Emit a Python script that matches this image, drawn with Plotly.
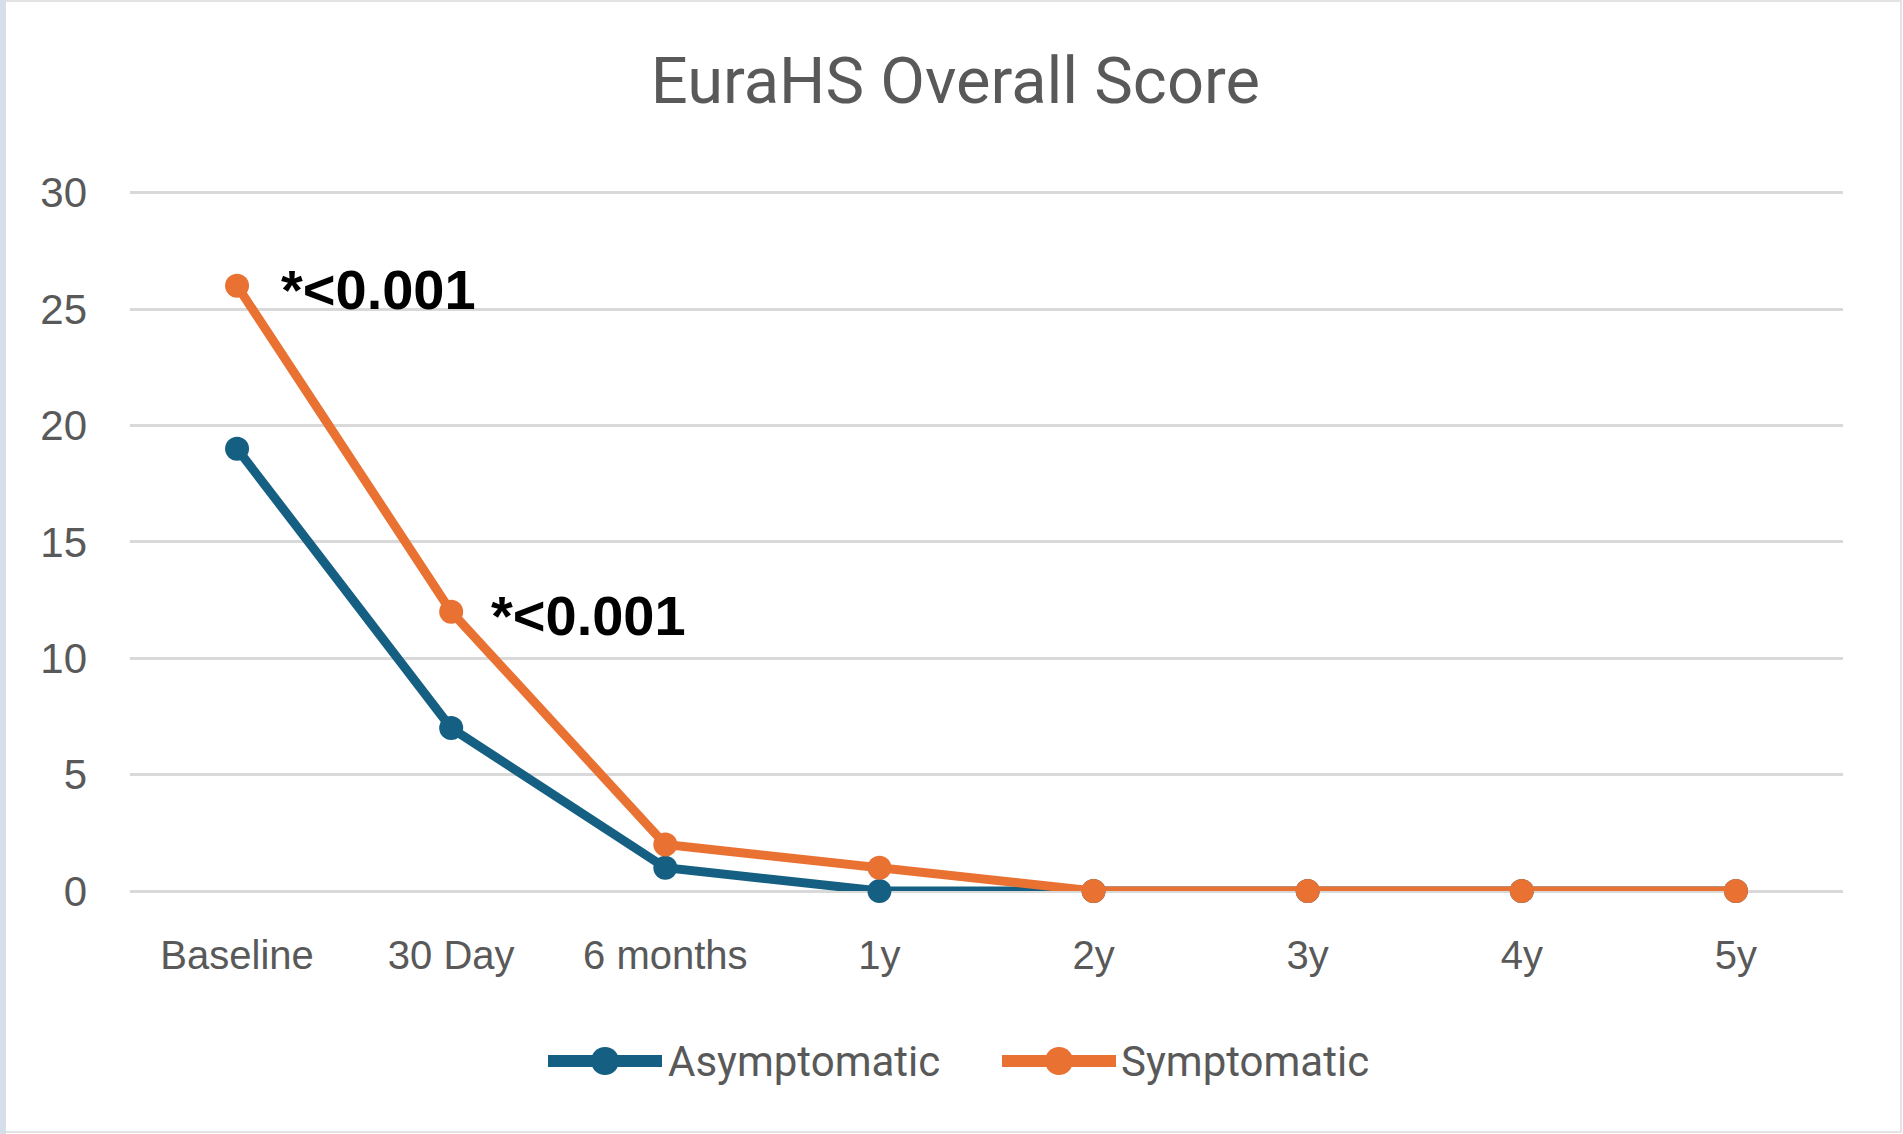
import plotly.graph_objects as go

categories = ["Baseline", "30 Day", "6 months", "1y", "2y", "3y", "4y", "5y"]
asymptomatic = [19, 7, 1, 0, 0, 0, 0, 0]
symptomatic = [26, 12, 2, 1, 0, 0, 0, 0]
series_names = ["Asymptomatic", "Symptomatic"]
series_colors = ["#156082", "#E97132"]
pvalue_labels = ["*<0.001", "*<0.001"]
pvalue_points = [0, 1]  # indices on the Symptomatic series
y_ticks = [0, 5, 10, 15, 20, 25, 30]

GRAY = "#595959"
GRID = "#d9d9d9"

fig = go.Figure()
for name, vals, col in zip(series_names, [asymptomatic, symptomatic], series_colors):
    fig.add_trace(go.Scatter(
        x=categories, y=vals, name=name, mode="lines+markers",
        line=dict(color=col, width=9),
        marker=dict(color=col, size=24),
        cliponaxis=False, showlegend=False,
    ))

for lbl, idx, xs in zip(pvalue_labels, pvalue_points, [42, 38]):
    fig.add_annotation(
        x=categories[idx], y=symptomatic[idx], text="<b>" + lbl + "</b>",
        xref="x", yref="y", showarrow=False, xanchor="left", yanchor="middle",
        xshift=xs, yshift=-4,
        font=dict(family="Liberation Sans, Arial", size=56, color="#000000"),
    )

# custom legend (line + marker + label), in paper coordinates
W, H = 1903, 1134
L, R, T, B = 130, 60, 188, 243
pw, ph = W - L - R, H - T - B
def px(xp):
    return (xp - L) / pw
def py(yp):
    return (H - B - yp) / ph

leg_y = 1061
leg_items = [(548, 662, 666), (1002, 1116, 1119)]
for (x0, x1, xt), name, col in zip(leg_items, series_names, series_colors):
    fig.add_shape(type="line", xref="paper", yref="paper",
                  x0=px(x0), x1=px(x1), y0=py(leg_y), y1=py(leg_y),
                  line=dict(color=col, width=12))
    xc = (x0 + x1) / 2
    r = 14
    fig.add_shape(type="circle", xref="paper", yref="paper",
                  x0=px(xc - r), x1=px(xc + r), y0=py(leg_y + r), y1=py(leg_y - r),
                  line=dict(color=col, width=0), fillcolor=col)
    fig.add_annotation(x=px(xt), y=py(leg_y), xref="paper", yref="paper",
                       text=name, showarrow=False, xanchor="left", yanchor="middle",
                       font=dict(family="Roboto", size=42, color=GRAY))

# outer frame
fig.add_shape(type="rect", xref="paper", yref="paper",
              x0=px(1), x1=px(W - 2), y0=py(1), y1=py(H - 2),
              line=dict(color="#e3e3e3", width=2), layer="below")
fig.add_shape(type="line", xref="paper", yref="paper",
              x0=px(3), x1=px(3), y0=py(0), y1=py(H),
              line=dict(color="#d6dee8", width=6), layer="below")

fig.update_layout(
    width=W, height=H,
    margin=dict(l=L, r=R, t=T, b=B, autoexpand=False),
    paper_bgcolor="white", plot_bgcolor="white",
    title=dict(text="EuraHS Overall Score", x=0.502, xref="container", xanchor="center",
               y=1 - 80 / H, yref="container", yanchor="middle",
               font=dict(family="Roboto", size=65, color=GRAY)),
    showlegend=False,
)
fig.update_xaxes(
    type="category", range=[-0.5, 7.5], showgrid=False, showline=False, zeroline=False,
    ticks="", ticklabelstandoff=37,
    tickfont=dict(family="Liberation Sans, Arial", size=40, color=GRAY),
)
fig.update_yaxes(
    range=[0, 30.2], tickvals=y_ticks, showgrid=True, gridcolor=GRID, gridwidth=3,
    zeroline=True, zerolinecolor=GRID, zerolinewidth=3, showline=False,
    ticks="", ticklabelstandoff=42,
    tickfont=dict(family="Liberation Sans, Arial", size=42, color=GRAY),
)

fig.write_html("out.html", config={"displayModeBar": False},
               post_script="document.body.style.margin='0';document.body.style.overflow='hidden';")
